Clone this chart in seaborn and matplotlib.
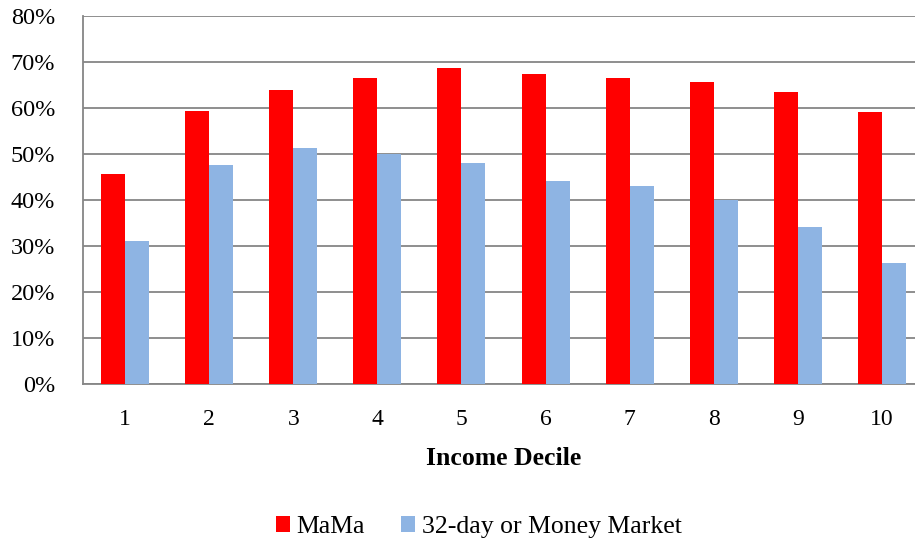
import pandas as pd
import numpy as np
import matplotlib
matplotlib.use("Agg")
import matplotlib.pyplot as plt
import seaborn as sns
from matplotlib.ticker import FixedLocator, PercentFormatter

# Values (% of households)
deciles = ['1', '2', '3', '4', '5', '6', '7', '8', '9', '10']
mama = [45.7, 59.3, 63.9, 66.5, 68.8, 67.4, 66.5, 65.7, 63.4, 59.1]
money_market = [31.1, 47.6, 51.3, 50.0, 48.1, 44.1, 43.1, 40.1, 34.1, 26.3]
series_names = ['MaMa', '32-day or Money Market']
series_colors = ['#FF0000', '#8EB4E3']

df = pd.DataFrame({
    'decile': deciles * 2,
    'share': mama + money_market,
    'series': [series_names[0]] * len(deciles) + [series_names[1]] * len(deciles),
})

sns.set_style("white")
plt.rcParams['font.family'] = ['Liberation Serif', 'DejaVu Serif']
plt.rcParams['text.color'] = 'black'
plt.rcParams['axes.labelcolor'] = 'black'
plt.rcParams['xtick.labelcolor'] = 'black'
plt.rcParams['ytick.labelcolor'] = 'black'

fig = plt.figure(figsize=(9.15, 5.42), dpi=100)
ax = fig.add_axes([83 / 915, 158 / 542, 841 / 915, 368 / 542])

sns.barplot(data=df, x='decile', y='share', hue='series', order=deciles,
            hue_order=series_names, palette=series_colors, width=0.571,
            saturation=1, linewidth=0, ax=ax, zorder=3)

grid_col = '#868686'
ax.set_ylim(0, 80)
ax.set_xlim(-0.5, len(deciles) - 0.5)
ax.set_yticks(np.arange(0, 81, 10))
ax.yaxis.set_major_formatter(PercentFormatter(decimals=0))
ax.yaxis.grid(True, color=grid_col, linewidth=1.3, zorder=0)
ax.set_axisbelow(True)

# category boundary tick marks on the x axis
ax.xaxis.set_minor_locator(FixedLocator(np.arange(-0.5, len(deciles), 1.0)))
ax.tick_params(axis='x', which='major', length=0, pad=18, labelsize=17, labelcolor='black')
ax.tick_params(axis='x', which='minor', length=6, width=1.3, color=grid_col, direction='out')
ax.tick_params(axis='y', which='major', length=6, width=1.3, color=grid_col,
               direction='out', pad=14, labelsize=17.5, labelcolor='black')

for side in ['top', 'right']:
    ax.spines[side].set_visible(False)
for side in ['left', 'bottom']:
    ax.spines[side].set_color(grid_col)
    ax.spines[side].set_linewidth(1.3)

ax.set_xlabel('Income Decile', fontsize=18.5, fontweight='bold', labelpad=12, color='black')
ax.set_ylabel('')

handles, labels = ax.get_legend_handles_labels()
ax.legend_.remove()
fig.legend(handles, labels, loc='center', bbox_to_anchor=(0.523, 0.028), ncol=2,
           frameon=False, fontsize=18.5, handlelength=0.56, handleheight=0.56,
           handletextpad=0.25, columnspacing=1.4, labelcolor='black')

fig.savefig('out.png', dpi=100)
